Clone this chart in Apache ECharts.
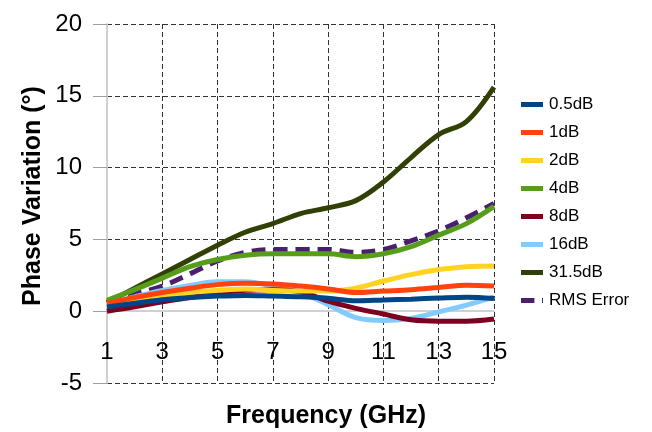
<!DOCTYPE html>
<html>
<head>
<meta charset="utf-8">
<script src="https://cdn.jsdelivr.net/npm/echarts@6/dist/echarts.min.js"></script>
<style>
  html, body { margin: 0; padding: 0; background: #fff; }
  #chart { width: 652px; height: 432px; }
</style>
</head>
<body>
<div id="chart"></div>
<script>
// Frequency points (GHz)
const freqs = [1, 2, 3, 4, 5, 6, 7, 8, 9, 10, 11, 12, 13, 14, 15];

// Phase variation (degrees) per attenuation state
const att0_5dB = [0.3, 0.55, 0.8, 0.95, 1.05, 1.1, 1.05, 1.0, 0.9, 0.72, 0.78, 0.84, 0.92, 0.98, 0.88];
const att1dB   = [0.55, 0.95, 1.3, 1.6, 1.85, 1.95, 1.9, 1.75, 1.55, 1.3, 1.4, 1.5, 1.65, 1.8, 1.75];
const att2dB   = [0.45, 0.8, 1.05, 1.3, 1.45, 1.55, 1.45, 1.4, 1.4, 1.6, 2.1, 2.55, 2.9, 3.1, 3.15];
const att4dB   = [0.75, 1.5, 2.3, 3.1, 3.6, 3.9, 4.0, 4.0, 4.0, 3.8, 4.0, 4.5, 5.3, 6.1, 7.3];
const att8dB   = [0.0, 0.3, 0.65, 0.95, 1.25, 1.45, 1.5, 1.35, 0.7, 0.2, -0.2, -0.6, -0.7, -0.7, -0.55];
const att16dB  = [0.5, 1.0, 1.45, 1.8, 2.05, 2.05, 1.75, 1.3, 0.45, -0.45, -0.65, -0.5, -0.05, 0.42, 1.0];
const att31_5dB = [0.6, 1.6, 2.6, 3.6, 4.6, 5.5, 6.1, 6.8, 7.2, 7.7, 9.0, 10.7, 12.3, 13.2, 15.6];
const rmsError = [0.6, 1.2, 1.75, 2.6, 3.5, 4.1, 4.3, 4.3, 4.3, 4.1, 4.3, 4.9, 5.6, 6.5, 7.5];

const seriesNames = ['0.5dB', '1dB', '2dB', '4dB', '8dB', '16dB', '31.5dB', 'RMS Error'];
const seriesValues = [att0_5dB, att1dB, att2dB, att4dB, att8dB, att16dB, att31_5dB, rmsError];
const seriesColors = ['#004586', '#ff420e', '#ffd320', '#579d1c', '#7e0021', '#83caff', '#314004', '#4b1f6f'];

// Axis ticks
const yTicks = [-5, 0, 5, 10, 15, 20];
const xTicks = [1, 3, 5, 7, 9, 11, 13, 15];

const FONT = '"Liberation Sans", Arial, sans-serif';

const chart = echarts.init(document.getElementById('chart'), null, { renderer: 'canvas' });

const series = seriesNames.map((name, i) => ({
  name: name,
  type: 'line',
  smooth: 0.35,
  showSymbol: false,
  symbol: 'none',
  z: 20 - i,
  data: freqs.map((f, k) => [f, seriesValues[i][k]]),
  lineStyle: {
    color: seriesColors[i],
    width: 5,
    type: name === 'RMS Error' ? [14, 8] : 'solid',
    cap: 'butt'
  },
  itemStyle: { color: seriesColors[i] },
  emphasis: { disabled: true }
}));

// Hide the dashed split line at zero, where the solid axis line sits
const ySplitColors = yTicks.map(v => (v === 0 ? 'rgba(0,0,0,0)' : '#333'));

chart.setOption({
  animation: false,
  backgroundColor: '#ffffff',
  textStyle: { fontFamily: FONT },
  grid: { left: 107, right: 158, top: 24, bottom: 49, containLabel: false },
  xAxis: {
    type: 'value',
    min: xTicks[0],
    max: xTicks[xTicks.length - 1],
    interval: 2,
    axisLine: { show: true, onZero: true, lineStyle: { color: '#d0d0d0', width: 2 } },
    axisTick: { show: false },
    // tick labels sit just below the zero line, inside the plot
    axisLabel: { color: '#000', fontSize: 24, fontFamily: FONT, inside: true, margin: 19 },
    splitLine: { show: true, showMinLine: false, lineStyle: { color: '#333', width: 1, type: [5, 3] } }
  },
  yAxis: {
    type: 'value',
    min: yTicks[0],
    max: yTicks[yTicks.length - 1],
    interval: 5,
    axisLine: { show: true, onZero: false, lineStyle: { color: '#d0d0d0', width: 2 } },
    axisTick: { show: true, length: 14, lineStyle: { color: '#a0a0a0', width: 1 } },
    axisLabel: { color: '#000', fontSize: 24, fontFamily: FONT, margin: 25 },
    splitLine: { show: true, lineStyle: { color: ySplitColors, width: 1, type: [5, 3] } }
  },
  legend: {
    orient: 'vertical',
    left: 516,
    top: 91,
    itemWidth: 22,
    itemHeight: 5,
    itemGap: 11,
    selectedMode: false,
    textStyle: { color: '#000', fontSize: 17, fontFamily: FONT, padding: [0, 0, 0, 1] },
    data: seriesNames.map((name, i) => ({
      name: name,
      icon: name === 'RMS Error' ? 'path://M0,0H14V5H0Z M22,0H23V5H22Z' : 'rect',
      itemStyle: { color: seriesColors[i] }
    }))
  },
  graphic: [
    {
      type: 'text',
      left: 'center',
      x: 0,
      top: 404,
      style: {
        text: 'Frequency (GHz)',
        fontFamily: FONT,
        fontSize: 25,
        fontWeight: 'bold',
        fill: '#000'
      }
    },
    {
      type: 'text',
      x: 21,
      y: 196,
      rotation: Math.PI / 2,
      style: {
        text: 'Phase Variation (°)',
        fontFamily: FONT,
        fontSize: 25,
        fontWeight: 'bold',
        fill: '#000',
        align: 'center',
        verticalAlign: 'top'
      }
    }
  ],
  series: series
});
</script>
</body>
</html>
